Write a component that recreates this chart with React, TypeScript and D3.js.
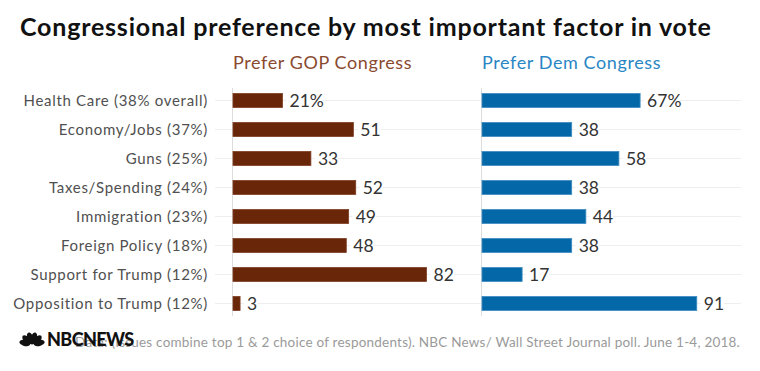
import React from 'react';
import { scaleLinear, scaleBand } from 'd3';

const categories = [
  'Health Care (38% overall)',
  'Economy/Jobs (37%)',
  'Guns (25%)',
  'Taxes/Spending (24%)',
  'Immigration (23%)',
  'Foreign Policy (18%)',
  'Support for Trump (12%)',
  'Opposition to Trump (12%)',
];
const gopValues = [21, 51, 33, 52, 49, 48, 82, 3];
const demValues = [67, 38, 58, 38, 44, 38, 17, 91];
const panelTitles = ['Prefer GOP Congress', 'Prefer Dem Congress'];

const W = 760;
const H = 371;
const FONT = 'Lato, "Open Sans", sans-serif';

const panels = [
  { title: panelTitles[0], values: gopValues, x0: 232, fill: '#692608', stroke: '#7d3d22', head: '#8a4a2f' },
  { title: panelTitles[1], values: demValues, x0: 481, fill: '#0468a8', stroke: '#3c8bc0', head: '#2a86c4' },
];

const y = scaleBand<string>().domain(categories).range([86, 318]).paddingInner(0.52).paddingOuter(0.26);
const x = scaleLinear().domain([0, 100]).range([0, 236]);

const Peacock = ({ cx, cy }: { cx: number; cy: number }) => {
  const angles = [-75, -45, -15, 15, 45, 75];
  return (
    <g transform={`translate(${cx},${cy})`}>
      {angles.map((a, i) => (
        <ellipse key={i} cx={0} cy={-7.5} rx={3} ry={5.5} fill="#111" transform={`rotate(${a})`} />
      ))}
      <circle cx={0} cy={-3} r={2.5} fill="#111" />
    </g>
  );
};

const App = () => {
  const labelW = (v: number, pct: boolean) => (String(v).length + (pct ? 1.3 : 0)) * 9.6 + 4;
  return (
    <svg width={W} height={H} style={{ position: 'absolute', left: 0, top: 0, background: '#fff' }}>
      <text x={20} y={36} fontFamily={FONT} fontSize={25} fontWeight={700} fill="#111" letterSpacing={0.8}>
        Congressional preference by most important factor in vote
      </text>

      {categories.map((c) => {
        const cy = (y(c) ?? 0) + y.bandwidth() / 2;
        return (
          <g key={c}>
            <line x1={215} x2={741} y1={cy} y2={cy} stroke="#eeeeee" strokeWidth={1} />
            <text x={208} y={cy} dy="0.36em" textAnchor="end" fontFamily={FONT} fontSize={15} fill="#505050" letterSpacing={0.7}>
              {c}
            </text>
          </g>
        );
      })}

      {panels.map((p) => (
        <g key={p.title}>
          <text x={p.x0 + 1} y={69} fontFamily={FONT} fontSize={18} fill={p.head} letterSpacing={0.6}>
            {p.title}
          </text>
          <line x1={p.x0 + 0.5} x2={p.x0 + 0.5} y1={88} y2={316} stroke="#dddddd" strokeWidth={1} />
          {categories.map((c, i) => {
            const v = p.values[i];
            const by = y(c) ?? 0;
            const cy = by + y.bandwidth() / 2;
            const bx = p.x0 + 1;
            const lx = bx + x(v) + 7;
            const label = i === 0 ? `${v}%` : `${v}`;
            return (
              <g key={c}>
                <rect x={bx} y={by} width={x(v)} height={y.bandwidth()} fill={p.fill} stroke={p.stroke} strokeWidth={0.8} />
                <rect x={lx - 3} y={cy - 9} width={labelW(v, i === 0)} height={18} fill="#fff" />
                <text x={lx} y={cy} dy="0.37em" fontFamily={FONT} fontSize={17.5} fill="#333">
                  {label}
                </text>
              </g>
            );
          })}
        </g>
      ))}

      <text x={740} y={347} textAnchor="end" fontFamily={FONT} fontSize={13.5} fill="#9a9a9a" letterSpacing={0.22}>
        Data: (Issues combine top 1 &amp; 2 choice of respondents). NBC News/ Wall Street Journal poll. June 1-4, 2018.
      </text>
      <Peacock cx={32} cy={345} />
      <text x={47} y={346} fontFamily={FONT} fontSize={18} fontWeight={900} fill="#111" letterSpacing={-0.6}>
        NBCNEWS
      </text>
    </svg>
  );
};

export default App;
